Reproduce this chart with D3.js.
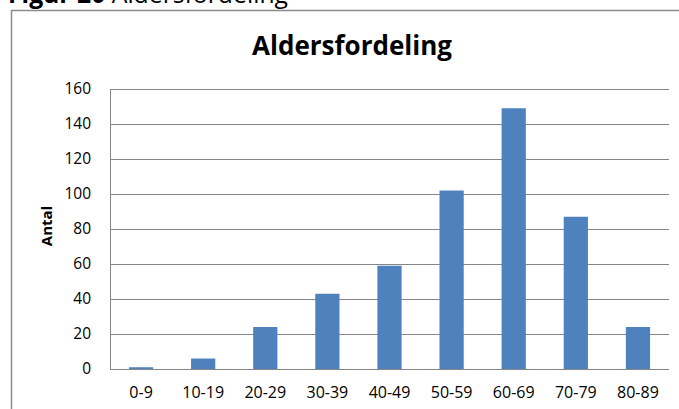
<!DOCTYPE html>
<html><head><meta charset="utf-8">
<script src="https://cdn.jsdelivr.net/npm/d3@7"></script>
<style>html,body{margin:0;padding:0;background:#fff;overflow:hidden;}svg{display:block;}</style>
</head><body>
<script>
const categories = ["0-9","10-19","20-29","30-39","40-49","50-59","60-69","70-79","80-89"];
const values = [1, 6, 24, 43, 59, 102, 149, 87, 24];
const yTicks = [0,20,40,60,80,100,120,140,160];
const titleText = "Aldersfordeling";
const yLabel = "Antal";

const W = 679, H = 409;
const svg = d3.select("body").append("svg").attr("width", W).attr("height", H);
const font = "'Open Sans', 'Liberation Sans', sans-serif";

// header (clipped caption)
const cap = svg.append("text").attr("x", 8).attr("y", 3).attr("font-family", font).attr("font-size", 26).attr("fill", "#000");
cap.append("tspan").attr("font-weight", "bold").text("Figur 20 ");
cap.append("tspan").text("Aldersfordeling");
const cw = cap.node().getComputedTextLength();
if (cw > 280) cap.attr("textLength", 280).attr("lengthAdjust", "spacingAndGlyphs");

// chart frame (top and left edges only; others are outside the view)
svg.append("path").attr("d", `M11.5,${H}V10.5H${W}`)
  .attr("fill", "none").attr("stroke", "#8c8c8c").attr("stroke-width", 1.5);

const m = {left: 110, right: 669, top: 89, bottom: 369};
const x = d3.scaleBand().domain(categories).range([m.left, m.right]).paddingInner(0.61).paddingOuter(0.305);
const y = d3.scaleLinear().domain([0, 160]).range([m.bottom, m.top]);

// gridlines
svg.append("g").selectAll("line").data(yTicks).join("line")
  .attr("x1", m.left).attr("x2", m.right)
  .attr("y1", d => Math.round(y(d)) + 0.5).attr("y2", d => Math.round(y(d)) + 0.5)
  .attr("stroke", "#868686").attr("stroke-width", 1);

// left axis line
svg.append("line").attr("x1", m.left + 0.5).attr("x2", m.left + 0.5).attr("y1", m.top).attr("y2", m.bottom)
  .attr("stroke", "#868686");

// bars
svg.append("g").selectAll("rect").data(values).join("rect")
  .attr("x", (d, i) => x(categories[i]))
  .attr("width", x.bandwidth())
  .attr("y", d => y(d))
  .attr("height", d => y(0) - y(d))
  .attr("fill", "#4F81BD");

// y axis tick labels
const yAxis = d3.axisLeft(y).tickValues(yTicks).tickSize(0).tickPadding(0);
const gy = svg.append("g").attr("transform", `translate(${m.left - 19},0)`).call(yAxis);
gy.select(".domain").remove();
gy.selectAll("text").attr("font-family", font).attr("font-size", 15.5).attr("fill", "#000");

// x axis tick labels
const xAxis = d3.axisBottom(x).tickSize(0).tickPadding(0);
const gx = svg.append("g").attr("transform", `translate(0,${m.bottom + 18})`).call(xAxis);
gx.select(".domain").remove();
gx.selectAll("text").attr("font-family", font).attr("font-size", 16).attr("fill", "#000");

// bottom axis line
svg.append("line").attr("x1", m.left).attr("x2", m.right).attr("y1", m.bottom + 0.5).attr("y2", m.bottom + 0.5)
  .attr("stroke", "#868686");

// title
const t = svg.append("text").attr("x", 352).attr("y", 55).attr("text-anchor", "middle")
  .attr("font-family", font).attr("font-weight", "bold").attr("font-size", 26).attr("fill", "#000").text(titleText);
const tw = t.node().getComputedTextLength();
if (tw > 218) t.attr("textLength", 218).attr("lengthAdjust", "spacingAndGlyphs");

// y label
const yl = svg.append("text").attr("transform", "translate(52,226) rotate(-90)").attr("text-anchor", "middle")
  .attr("font-family", font).attr("font-weight", "bold").attr("font-size", 15).attr("fill", "#000").text(yLabel);
if (yl.node().getComputedTextLength() > 48) yl.attr("textLength", 48).attr("lengthAdjust", "spacingAndGlyphs");
</script>
</body></html>
